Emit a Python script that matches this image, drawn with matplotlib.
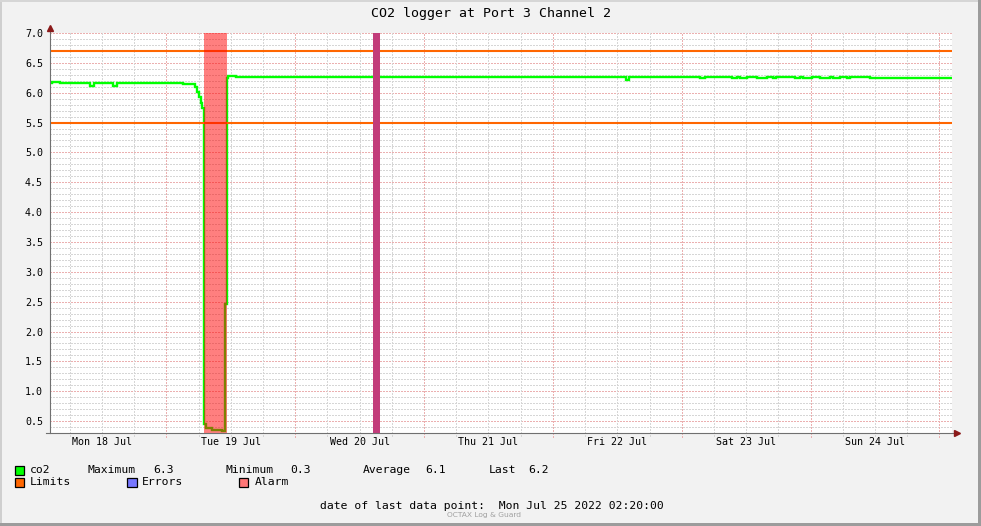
import numpy as np
import matplotlib
matplotlib.use("Agg")
import matplotlib.pyplot as plt
from matplotlib.patches import Rectangle
from datetime import datetime

# ---------------- data ----------------
start_time = datetime(2022, 7, 18, 2, 20)
title = "CO2 logger at Port 3 Channel 2"

# hours since start_time, and CO2 readings (step series)
co2_hours = [0, 0.4, 1.9, 7.4, 8.2, 11.7, 12.5, 16.2, 17.3, 21.0, 24.8, 27.0, 27.4,
             27.7, 28.1, 28.4, 28.7, 29.0, 30.2, 32.0, 32.6, 32.9, 33.2, 34.6, 36.5,
             107.3, 107.8, 121.1, 122.0, 127.0, 128.0, 128.5, 129.8, 131.7, 133.5,
             134.7, 135.2, 138.8, 139.7, 140.3, 141.9, 143.4, 145.3, 145.8, 147.1,
             148.5, 149.0, 152.7, 168.0]
co2_values = [6.17, 6.18, 6.17, 6.12, 6.17, 6.12, 6.17, 6.16, 6.17, 6.16, 6.15, 6.10, 6.02,
              5.92, 5.82, 5.75, 0.45, 0.39, 0.35, 0.33, 2.46, 6.25, 6.28, 6.27, 6.26,
              6.22, 6.26, 6.25, 6.26, 6.25, 6.26, 6.25, 6.26, 6.25, 6.26,
              6.25, 6.26, 6.25, 6.26, 6.25, 6.26, 6.25, 6.26, 6.25, 6.26,
              6.25, 6.26, 6.24, 6.24]

limits = [6.7, 5.5]
alarm_span = (28.68, 32.97)      # hours
error_alarm_span = (60.16, 61.46)  # hours

day_labels = ["Mon 18 Jul", "Tue 19 Jul", "Wed 20 Jul", "Thu 21 Jul",
              "Fri 22 Jul", "Sat 23 Jul", "Sun 24 Jul"]
y_ticks = [0.5, 1.0, 1.5, 2.0, 2.5, 3.0, 3.5, 4.0, 4.5, 5.0, 5.5, 6.0, 6.5, 7.0]

stats_labels = ["Maximum", "Minimum", "Average", "Last"]
stats_values = ["6.3", "0.3", "6.1", "6.2"]
last_point_text = "date of last data point:  Mon Jul 25 2022 02:20:00"
footer_credit = "OCTAX Log & Guard"

# ---------------- figure ----------------
W, H = 981, 526
MONO = "DejaVu Sans Mono"
fig = plt.figure(figsize=(W / 100, H / 100), dpi=100, facecolor="#F2F2F2")


def fx(x):
    return x / W


def fy(y):
    return 1 - y / H


ax = fig.add_axes([fx(50), 93 / H, 902 / W, 400 / H])
ax.set_facecolor("white")
ax.set_xlim(0, 168)
ax.set_ylim(0.3, 7.0)

def hours_of(dt):
    return (dt - start_time).total_seconds() / 3600.0

noon_hours = [hours_of(datetime(2022, 7, 18 + k, 12)) for k in range(7)]
midnight_hours = [hours_of(datetime(2022, 7, 19 + k, 0)) for k in range(7)]
six_hours = [h for h in np.arange(midnight_hours[0] - 18, 168, 6)
             if 0 < h < 168 and not any(abs(h - m) < 1e-6 for m in midnight_hours)]

minor_col = "#D6D6D6"
major_col = "#EBB0B0"
dash = (0, (1.4, 1.4))

# horizontal grid
for v in np.arange(0.4, 7.001, 0.1):
    is_major = abs(v * 2 - round(v * 2)) < 1e-6
    ax.axhline(v, color=major_col if is_major else minor_col, lw=0.72,
               linestyle=dash, antialiased=False, zorder=1)
# vertical grid (extending slightly below axis)
for h in six_hours:
    ax.axvline(h, ymin=-0.008, ymax=1, color=minor_col, lw=0.72, linestyle=dash,
               antialiased=False, zorder=1, clip_on=False)
for h in midnight_hours:
    ax.axvline(h, ymin=-0.01, ymax=1, color=major_col, lw=0.72, linestyle=dash,
               antialiased=False, zorder=1, clip_on=False)

# limits
for lv in limits:
    ax.axhline(lv, color="#FF6600", lw=1.5, zorder=2.5)

# co2 line
ax.plot(co2_hours, co2_values, drawstyle="steps-post", color="#00FF00", lw=1.7,
        zorder=2, solid_joinstyle="miter")

# alarm bands
ax.axvspan(*alarm_span, color="#FF0000", alpha=0.5, lw=0, zorder=3)
ax.axvspan(*error_alarm_span, color="#C23C7A", lw=0, zorder=4)

# axes styling
for s in ["top", "right", "left", "bottom"]:
    ax.spines[s].set_visible(False)
ax.plot([0, 0], [0, 1.012], transform=ax.transAxes, color="#707070", lw=0.8,
        clip_on=False, zorder=5)
ax.plot([-0.004, 1.003], [0, 0], transform=ax.transAxes, color="#707070", lw=0.8,
        clip_on=False, zorder=5)
ax.plot([0], [1.0125], marker="^", color="#8B1A1A", markersize=4.5,
        transform=ax.transAxes, clip_on=False, zorder=6)
ax.plot([1.005], [0], marker=">", color="#8B1A1A", markersize=4.5,
        transform=ax.transAxes, clip_on=False, zorder=6)

ax.set_yticks(y_ticks)
ax.set_yticklabels([f"{v:.1f}" for v in y_ticks], family=MONO, fontsize=7.2)
ax.set_xticks(noon_hours)
ax.set_xticklabels(day_labels, family=MONO, fontsize=7.2)
ax.tick_params(axis="y", length=0, pad=5)
ax.tick_params(axis="x", length=0, pad=3)

# title
fig.text(fx(491), fy(13), title, family=MONO, fontsize=9.5, ha="center", va="center")

# legend
LEG_FS = 8.2
row1, row2 = 470, 482


def box(x, y, color):
    fig.add_artist(Rectangle((fx(x), fy(y + 4.5)), 9 / W, 9 / H, transform=fig.transFigure,
                             facecolor=color, edgecolor="black", lw=0.9))


box(15, row1, "#00FF00")
fig.text(fx(30), fy(row1), "co2", family=MONO, fontsize=LEG_FS, va="center")
stat_label_x = [88, 225.5, 362.5, 489]
stat_value_x = [153, 290.5, 425, 528]
for lbl, val, lx, vx in zip(stats_labels, stats_values, stat_label_x, stat_value_x):
    fig.text(fx(lx), fy(row1), lbl, family=MONO, fontsize=LEG_FS, va="center")
    fig.text(fx(vx), fy(row1), val, family=MONO, fontsize=LEG_FS, va="center")

box(15, row2, "#FF6600")
fig.text(fx(30), fy(row2), "Limits", family=MONO, fontsize=LEG_FS, va="center")
box(127.5, row2, "#7777FF")
fig.text(fx(142), fy(row2), "Errors", family=MONO, fontsize=LEG_FS, va="center")
box(239, row2, "#FF7777")
fig.text(fx(254.5), fy(row2), "Alarm", family=MONO, fontsize=LEG_FS, va="center")

fig.text(fx(492), fy(506), last_point_text, family=MONO, fontsize=LEG_FS,
         ha="center", va="center")
fig.text(fx(484), fy(515.5), footer_credit, family="DejaVu Sans", fontsize=5.4,
         color="#A0A0A0", ha="center", va="center")

# 3D-ish border
fig.add_artist(Rectangle((0, 0), 2 / W, 1, transform=fig.transFigure, color="#CFCFCF", lw=0))
fig.add_artist(Rectangle((0, 1 - 2 / H), 1, 2 / H, transform=fig.transFigure, color="#D6D6D6", lw=0))
fig.add_artist(Rectangle((1 - 3 / W, 0), 3 / W, 1, transform=fig.transFigure, color="#9C9C9C", lw=0))
fig.add_artist(Rectangle((0, 0), 1, 3 / H, transform=fig.transFigure, color="#9C9C9C", lw=0))

fig.savefig("out.png", dpi=100, facecolor=fig.get_facecolor())
